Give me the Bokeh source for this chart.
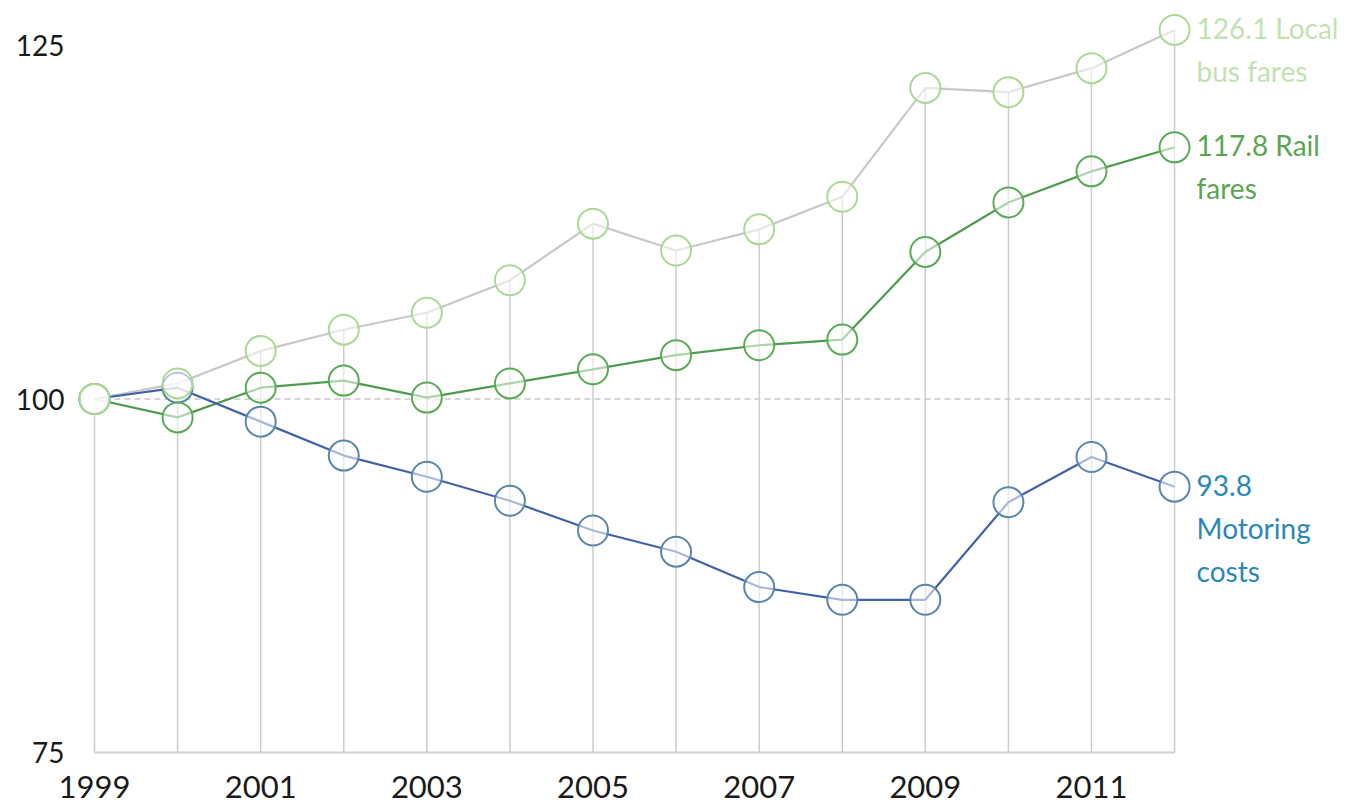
from bokeh.plotting import figure
from bokeh.models import FixedTicker, ColumnDataSource, Range1d
from bokeh.embed import file_html
from bokeh.resources import INLINE
from bokeh.core.properties import value

years = list(range(1999, 2013))
bus = [100, 101.1, 103.4, 104.9, 106.1, 108.4, 112.4, 110.5, 112.0, 114.3, 122.0, 121.7, 123.4, 126.1]
rail = [100, 98.7, 100.8, 101.3, 100.1, 101.1, 102.1, 103.1, 103.8, 104.2, 110.4, 113.9, 116.1, 117.8]
motoring = [100, 100.8, 98.4, 96.0, 94.5, 92.8, 90.7, 89.2, 86.7, 85.8, 85.8, 92.7, 95.9, 93.8]
y_ticks = [75, 100, 125]
x_ticks = [1999, 2001, 2003, 2005, 2007, 2009, 2011]
label_texts = ["126.1 Local\nbus fares", "117.8 Rail\nfares", "93.8\nMotoring\ncosts"]

FONT = "Lato"

p = figure(frame_width=1270, frame_height=758, output_backend="svg", toolbar_location=None,
           x_range=Range1d(1998.711, 2013.997), y_range=Range1d(74.01, 127.617),
           min_border_left=70, min_border_right=0, min_border_top=8, min_border_bottom=46)
p.outline_line_color = None
p.grid.grid_line_color = None
p.background_fill_color = "white"

# axes
p.yaxis.ticker = FixedTicker(ticks=y_ticks)
p.xaxis.ticker = FixedTicker(ticks=x_ticks)
for ax in (p.xaxis[0], p.yaxis[0]):
    ax.axis_line_color = None
    ax.major_tick_line_color = None
    ax.minor_tick_line_color = None
    ax.major_tick_out = 0
    ax.major_tick_in = 0
    ax.major_label_text_font = FONT
    ax.major_label_text_color = "#1a1a1a"
p.yaxis.major_label_text_font_size = "28px"
p.yaxis.major_label_standoff = 6
p.xaxis.major_label_text_font_size = "31px"
p.xaxis.major_label_standoff = 9

# vertical drop lines from highest value to base
tops = [max(a, b, c) for a, b, c in zip(bus, rail, motoring)]
p.segment(x0=years, y0=tops, x1=years, y1=[y_ticks[0]] * len(years),
          line_color="#cccccc", line_width=1.5)
# baseline
p.line(x=[years[0], years[-1]], y=[y_ticks[0], y_ticks[0]], line_color="#d0d0d0", line_width=2)
# reference dashed line at 100
p.line(x=[years[0], years[-1]], y=[100, 100], line_color="#c8c8c8", line_width=1.5, line_dash="6 4")

series = [
    (bus, "#c8c8c8", "#a9d994", "#bfe3b0"),
    (rail, "#4f9c4f", "#5aab55", "#5aa552"),
    (motoring, "#4262a8", "#5a86ab", "#2a87b8"),
]
# draw lines
for vals, lc, cc, tc in series:
    p.line(x=years, y=vals, line_color=lc, line_width=2.2)
# circles: motoring, rail, bus on top
for vals, lc, cc, tc in reversed(series):
    p.scatter(x=years, y=vals, size=30, fill_color="white", fill_alpha=0.55,
              line_color=cc, line_width=2)

# end labels
for (vals, lc, cc, tc), txt in zip(series, label_texts):
    src = ColumnDataSource(dict(x=[years[-1]], y=[vals[-1]], t=[txt]))
    p.text(x="x", y="y", text="t", source=src, x_offset=22, y_offset=-19,
           text_font=value(FONT), text_font_size="28px", text_color=tc,
           text_baseline="top", text_align="left", text_line_height=1.27)

open("out.html", "w").write(file_html(p, INLINE))
